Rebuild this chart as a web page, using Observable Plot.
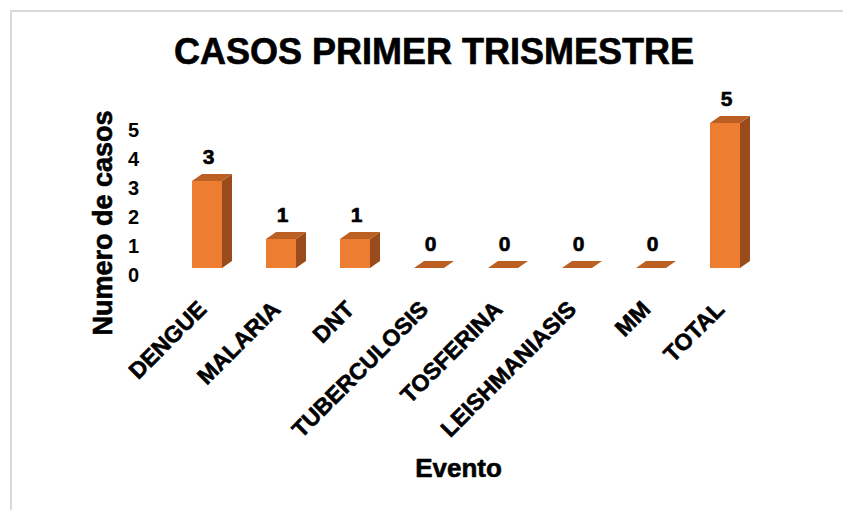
<!DOCTYPE html>
<html>
<head>
<meta charset="utf-8">
<script src="https://cdn.jsdelivr.net/npm/d3@7"></script>
<script src="https://cdn.jsdelivr.net/npm/@observablehq/plot@0.6"></script>
<style>
  html, body { margin: 0; padding: 0; background: #fff; }
  #wrap { position: relative; width: 843px; height: 510px; overflow: hidden; font-family: "Liberation Sans", Arial, sans-serif; }
  #frame { position: absolute; left: 10px; top: 10px; width: 860px; height: 520px; border-left: 2px solid #d9d9d9; border-top: 2px solid #d9d9d9; box-sizing: border-box; }
  #title { position: absolute; left: 0; top: 33px; width: 868px; text-align: center; font-weight: bold; font-size: 36px; line-height: 38px; color: #000; -webkit-text-stroke: 0.6px #000; }
  #chart { position: absolute; left: 0; top: 80px; }
</style>
</head>
<body>
<div id="wrap">
  <div id="frame"></div>
  <div id="title">CASOS PRIMER TRISMESTRE</div>
  <div id="chart"></div>
</div>
<script>
const categories = ["DENGUE", "MALARIA", "DNT", "TUBERCULOSIS", "TOSFERINA", "LEISHMANIASIS", "MM", "TOTAL"];
const casos = [3, 1, 1, 0, 0, 0, 0, 5];
const yTicks = [0, 1, 2, 3, 4, 5];
const yLabel = "Numero de casos";
const xLabel = "Evento";

const data = categories.map((c, i) => ({evento: c, casos: casos[i]}));

const DX = 10, DY = 7;
function prismFace(face) {
  return function(index, scales, values, dims, ctx, next) {
    const g = next(index, scales, values, dims, ctx);
    g.querySelectorAll("rect").forEach(r => {
      const x = +r.getAttribute("x"), y = +r.getAttribute("y");
      const w = +r.getAttribute("width"), h = +r.getAttribute("height");
      const p = document.createElementNS("http://www.w3.org/2000/svg", "path");
      const d = face === "side"
        ? `M${x + w},${y}L${x + w + DX},${y - DY}L${x + w + DX},${y + h - DY}L${x + w},${y + h}Z`
        : `M${x},${y}L${x + DX},${y - DY}L${x + w + DX},${y - DY}L${x + w},${y}Z`;
      p.setAttribute("d", d);
      if (r.getAttribute("fill")) p.setAttribute("fill", r.getAttribute("fill"));
      r.replaceWith(p);
    });
    return g;
  };
}

const bold = {fontWeight: "bold", fill: "#000", stroke: "#000", strokeWidth: 0.6};

const chart = Plot.plot({
  width: 843,
  height: 430,
  marginLeft: 148,
  marginRight: 59,
  marginTop: 43,
  marginBottom: 242,
  style: {fontFamily: '"Liberation Sans", Arial, sans-serif', color: "#000", background: "transparent", overflow: "visible"},
  x: {domain: categories, padding: 0.595, round: false, axis: null},
  y: {domain: [0, 5], axis: null},
  marks: [
    Plot.axisY(yTicks, {tickSize: 0, tickPadding: 15, textAnchor: "middle", fontSize: 20, dy: 7, label: null, ...bold}),
    Plot.barY(data, {x: "evento", y: "casos", fill: "#9a4b1b", render: prismFace("side")}),
    Plot.barY(data, {x: "evento", y: "casos", fill: "#bb5f23", render: prismFace("top")}),
    Plot.barY(data, {x: "evento", y: "casos", fill: "#ed7d31"}),
    Plot.text(data, {x: "evento", y: "casos", text: d => String(d.casos), dy: -24, dx: 1, fontSize: 21, ...bold}),
    Plot.text(categories, {x: d => d, frameAnchor: "bottom", rotate: -45, textAnchor: "end", lineAnchor: "middle", dx: -5, dy: 37, fontSize: 23, ...bold}),
    Plot.text([yLabel], {frameAnchor: "left", rotate: -90, textAnchor: "middle", lineAnchor: "middle", dx: -45, dy: 27, fontSize: 27, ...bold}),
    Plot.text([xLabel], {frameAnchor: "bottom", lineAnchor: "middle", textAnchor: "middle", dx: -8, dy: 200, fontSize: 26, ...bold})
  ]
});
document.getElementById("chart").appendChild(chart);
</script>
</body>
</html>
